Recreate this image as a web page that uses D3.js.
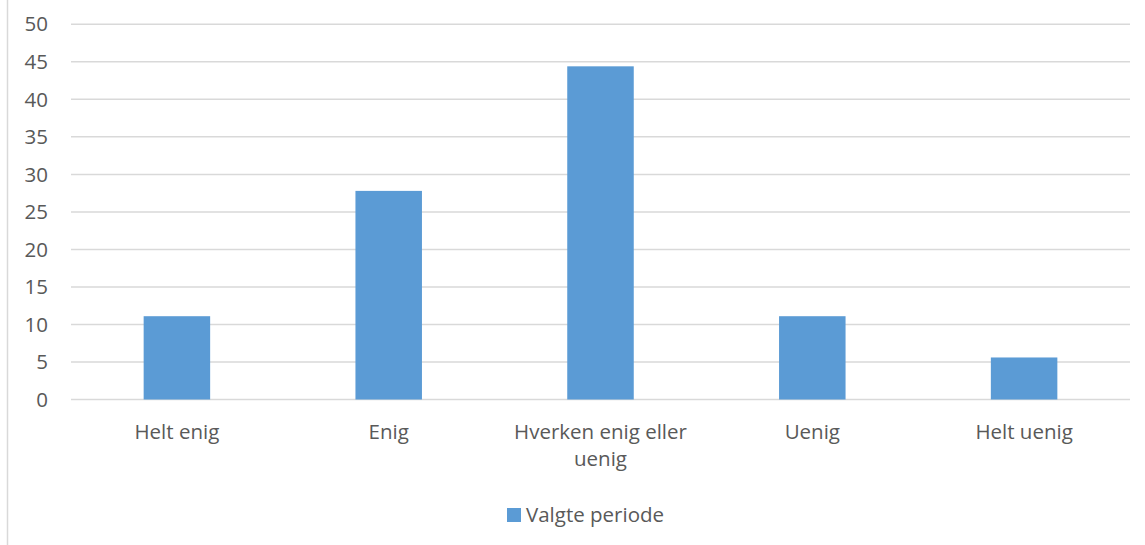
<!DOCTYPE html>
<html>
<head>
<meta charset="utf-8">
<script src="https://cdn.jsdelivr.net/npm/d3@7"></script>
<style>
  body { margin: 0; background: #fff; }
  text { font-family: "Open Sans", sans-serif; fill: #595959; }
</style>
</head>
<body>
<svg id="chart" width="1145" height="545"></svg>
<script>
// data
const categories = ["Helt enig", "Enig", "Hverken enig eller uenig", "Uenig", "Helt uenig"];
const values = [11.1, 27.8, 44.4, 11.1, 5.6];
const yTicks = [0, 5, 10, 15, 20, 25, 30, 35, 40, 45, 50];
const seriesName = "Valgte periode";

const svg = d3.select("#chart"),
  width = +svg.attr("width"),
  height = +svg.attr("height");

const barColor = "#5b9bd5";
const gridColor = "#d9d9d9";
const fontSize = "20.5px";

// chart frame edge on the left
svg.append("line")
  .attr("x1", 7.5).attr("x2", 7.5)
  .attr("y1", 0).attr("y2", height)
  .attr("stroke", gridColor).attr("stroke-width", 1.5);

const x = d3.scaleBand()
  .domain(categories)
  .range([71, 1130])
  .paddingInner(0.686)
  .paddingOuter(0.343);

const y = d3.scaleLinear()
  .domain([0, 50])
  .range([399.5, 24.3]);

// gridlines
svg.append("g")
  .selectAll("line")
  .data(yTicks)
  .enter()
  .append("line")
  .attr("x1", 71)
  .attr("x2", 1130)
  .attr("y1", d => y(d))
  .attr("y2", d => y(d))
  .attr("stroke", gridColor)
  .attr("stroke-width", 1.5);

// y labels
svg.append("g")
  .selectAll("text")
  .data(yTicks)
  .enter()
  .append("text")
  .attr("x", 48)
  .attr("y", d => y(d))
  .attr("dy", "0.35em")
  .attr("text-anchor", "end")
  .style("font-size", fontSize)
  .text(d => d);

// bars
svg.append("g")
  .selectAll("rect")
  .data(values)
  .enter()
  .append("rect")
  .attr("x", (d, i) => x(categories[i]))
  .attr("width", x.bandwidth())
  .attr("y", d => y(d))
  .attr("height", d => y(0) - y(d))
  .attr("fill", barColor);

// x labels (wrap long ones)
const xl = svg.append("g")
  .selectAll("text")
  .data(categories)
  .enter()
  .append("text")
  .attr("x", d => x(d) + x.bandwidth() / 2)
  .attr("y", 439)
  .attr("text-anchor", "middle")
  .style("font-size", fontSize);

xl.each(function (d) {
  const lines = d === "Hverken enig eller uenig" ? ["Hverken enig eller", "uenig"] : [d];
  const t = d3.select(this);
  lines.forEach((ln, j) => {
    t.append("tspan")
      .attr("x", x(d) + x.bandwidth() / 2)
      .attr("dy", j === 0 ? 0 : 27)
      .text(ln);
  });
});

// legend
const legend = svg.append("g");
legend.append("rect")
  .attr("x", 507).attr("y", 508)
  .attr("width", 14).attr("height", 14)
  .attr("fill", barColor);
legend.append("text")
  .attr("x", 526).attr("y", 515)
  .attr("dy", "0.35em")
  .style("font-size", fontSize)
  .text(seriesName);
</script>
</body>
</html>
